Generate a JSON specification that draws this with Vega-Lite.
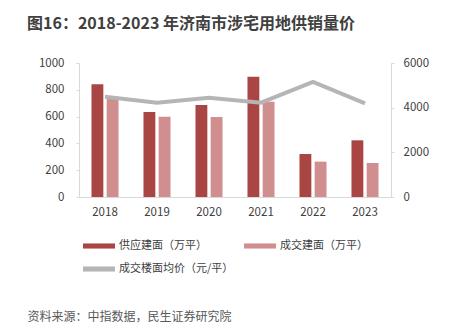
{
  "$schema": "https://vega.github.io/schema/vega-lite/v6.json",
  "autosize": {"type": "none"},
  "width": 312,
  "height": 134,
  "padding": {"left": 79, "top": 63, "right": 66, "bottom": 126},
  "background": "white",
  "config": {
    "font": "Noto Sans CJK SC",
    "view": {"stroke": null},
    "axis": {"labelFont": "Noto Sans CJK SC", "labelColor": "#404040", "labelFontSize": 11.5, "domainColor": "#d9d9d9", "tickColor": "#d9d9d9", "grid": false}
  },
  "title": {
    "text": "图16：2018-2023 年济南市涉宅用地供销量价",
    "anchor": "start",
    "frame": "group",
    "dx": -52,
    "offset": 12,
    "baseline": "alphabetic",
    "fontSize": 16,
    "fontWeight": "bold",
    "color": "#404040",
    "font": "Noto Sans CJK SC"
  },
  "datasets": {
    "bars": [
      {"year": "2018", "series": "供应建面（万平）", "value": 841},
      {"year": "2018", "series": "成交建面（万平）", "value": 748},
      {"year": "2019", "series": "供应建面（万平）", "value": 634},
      {"year": "2019", "series": "成交建面（万平）", "value": 599},
      {"year": "2020", "series": "供应建面（万平）", "value": 687},
      {"year": "2020", "series": "成交建面（万平）", "value": 597},
      {"year": "2021", "series": "供应建面（万平）", "value": 898},
      {"year": "2021", "series": "成交建面（万平）", "value": 711},
      {"year": "2022", "series": "供应建面（万平）", "value": 321},
      {"year": "2022", "series": "成交建面（万平）", "value": 264},
      {"year": "2023", "series": "供应建面（万平）", "value": 423},
      {"year": "2023", "series": "成交建面（万平）", "value": 254}
    ],
    "price": [
      {"year": "2018", "price": 4491},
      {"year": "2019", "price": 4223},
      {"year": "2020", "price": 4446},
      {"year": "2021", "price": 4223},
      {"year": "2022", "price": 5149},
      {"year": "2023", "price": 4194}
    ]
  },
  "encoding": {
    "x": {
      "field": "year",
      "type": "nominal",
      "scale": {"paddingInner": 0.48, "paddingOuter": 0.24},
      "axis": {
        "labelAngle": 0,
        "ticks": false,
        "labelPadding": 9,
        "title": "资料来源：中指数据，民生证券研究院",
        "titleAnchor": "start",
        "titleAlign": "left",
        "titleX": -52,
        "titleY": 123,
        "titleBaseline": "alphabetic",
        "titleFontSize": 12,
        "titleFontWeight": "normal",
        "titleColor": "#595959",
        "titleFont": "Noto Sans CJK SC"
      }
    }
  },
  "layer": [
    {
      "data": {"name": "bars"},
      "mark": {"type": "bar"},
      "encoding": {
        "xOffset": {"field": "series", "type": "nominal", "sort": ["供应建面（万平）", "成交建面（万平）"], "scale": {"paddingInner": 0.22}},
        "y": {
          "field": "value",
          "type": "quantitative",
          "scale": {"domain": [0, 1000], "nice": false},
          "axis": {"values": [0, 200, 400, 600, 800, 1000], "format": "d", "title": null, "tickSize": 3, "labelPadding": 12}
        },
        "color": {
          "field": "series",
          "type": "nominal",
          "scale": {
            "domain": ["供应建面（万平）", "成交建面（万平）", "成交楼面均价（元/平）"],
            "range": ["#A94643", "#D18E8F", "#B5B5B5"]
          },
          "legend": {
            "orient": "none",
            "legendX": 4,
            "legendY": 167,
            "direction": "horizontal",
            "columns": 2,
            "title": null,
            "symbolType": "M-1,-0.16H1V0.16H-1Z",
            "symbolSize": 1024,
            "symbolStrokeWidth": 0,
            "symbolOpacity": 1,
            "labelFontSize": 11,
            "labelColor": "#404040",
            "labelFont": "Noto Sans CJK SC",
            "labelOffset": 4,
            "columnPadding": 10,
            "rowPadding": 2
          }
        }
      }
    },
    {
      "data": {"name": "price"},
      "mark": {"type": "line", "strokeWidth": 4},
      "encoding": {
        "y": {
          "field": "price",
          "type": "quantitative",
          "scale": {"domain": [0, 6000], "nice": false},
          "axis": {"orient": "right", "values": [0, 2000, 4000, 6000], "format": "d", "title": null, "tickSize": 3, "labelPadding": 9}
        },
        "color": {"datum": "成交楼面均价（元/平）"}
      }
    }
  ],
  "resolve": {"scale": {"y": "independent"}}
}
